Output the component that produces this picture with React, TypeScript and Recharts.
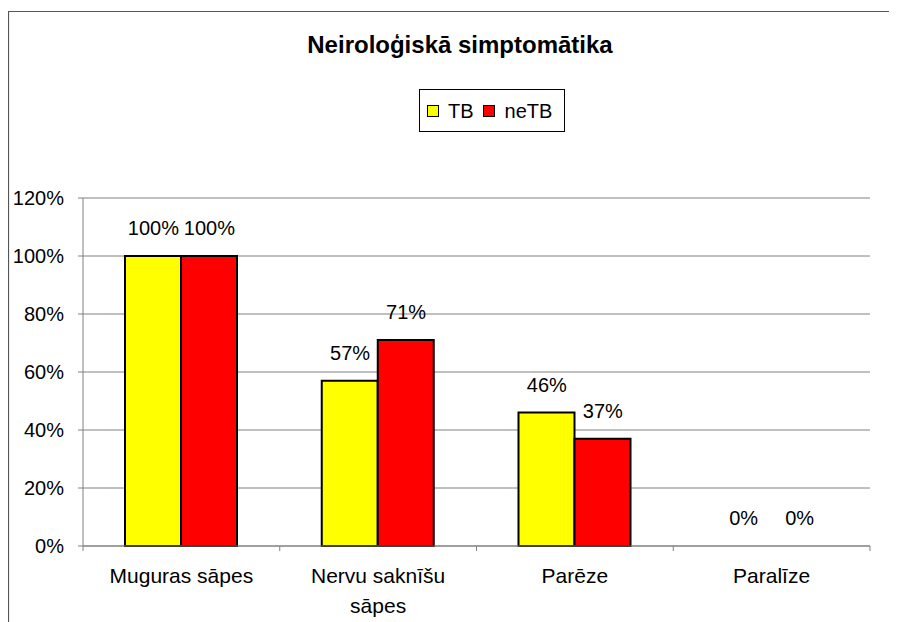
import React from 'react';
import { ComposedChart, Bar, Line, XAxis, YAxis, CartesianGrid, Legend, LabelList } from 'recharts';

const categories = ['Muguras sāpes', 'Nervu saknīšu sāpes', 'Parēze', 'Paralīze'];
const tbValues = [100, 57, 46, 0];
const neTbValues = [100, 71, 37, 0];
const yTicks = [0, 20, 40, 60, 80, 100, 120];
const TITLE = 'Neiroloģiskā simptomātika';

const data = categories.map((name, i) => ({ name, TB: tbValues[i], neTB: neTbValues[i] }));

const W = 889;
const H = 614;
const M = { top: 190, right: 27, left: 0, bottom: 16 };
const Y_W = 75;
const PLOT_W = W - M.left - M.right - Y_W;
const BAR_SIZE = 56;
const FONT = '"Liberation Sans", Arial, sans-serif';
const GRID = '#808080';

const splitLabel = (s: string): string[] => {
  if (s === 'Nervu saknīšu sāpes') return ['Nervu saknīšu', 'sāpes'];
  return [s];
};

const XTick = (props: any) => {
  const { x, y, payload, index } = props;
  const count = props.visibleTicksCount || categories.length;
  const band = PLOT_W / count;
  const lines = splitLabel(String(payload.value));
  const axisY = y - 5;
  const left = x - band / 2;
  return (
    <g>
      <line x1={left} x2={left} y1={axisY} y2={axisY + 5} stroke={GRID} strokeWidth={1} />
      {index === count - 1 && (
        <line x1={x + band / 2} x2={x + band / 2} y1={axisY} y2={axisY + 5} stroke={GRID} strokeWidth={1} />
      )}
      <text x={x} y={axisY + 37} textAnchor="middle" fontFamily={FONT} fontSize={21} fill="#000">
        {lines.map((l, i) => (
          <tspan key={i} x={x} dy={i === 0 ? 0 : 30}>{l}</tspan>
        ))}
      </text>
    </g>
  );
};

const makeLabel = (shift: number) => (props: any) => {
  const vb = props.viewBox || {};
  const x = props.x ?? vb.x;
  const y = props.y ?? vb.y;
  const { value } = props;
  if (x == null || y == null || value == null) return null;
  return (
    <text x={x + shift} y={y - 21} textAnchor="middle" fontFamily={FONT} fontSize={20} fill="#000">
      {value}%
    </text>
  );
};

const TbLabel = makeLabel(-BAR_SIZE / 2);
const NeTbLabel = makeLabel(BAR_SIZE / 2);

const LegendBox = (props: any) => {
  const payload = (props.payload || []).filter((p: any) => p.type !== 'none');
  return (
    <div
      style={{
        boxSizing: 'border-box',
        width: 146,
        height: 43,
        border: '1px solid #000',
        display: 'flex',
        alignItems: 'center',
        paddingLeft: 7,
        fontFamily: FONT,
        fontSize: 20,
        color: '#000',
        background: '#fff',
      }}
    >
      {payload.map((p: any, i: number) => (
        <div key={i} style={{ display: 'flex', alignItems: 'center', marginRight: 9 }}>
          <span
            style={{
              display: 'inline-block',
              boxSizing: 'border-box',
              width: 12,
              height: 12,
              background: p.color,
              border: '1.5px solid #000',
              marginRight: i === 0 ? 9 : 10,
            }}
          />
          <span style={{ lineHeight: '20px' }}>{p.value}</span>
        </div>
      ))}
    </div>
  );
};

export default function App() {
  return (
    <div style={{ position: 'relative', width: W, height: H, overflow: 'hidden', background: '#fff' }}>
      <svg width={W} height={H} style={{ position: 'absolute', left: 0, top: 0 }}>
        <line x1={0.5} x2={0.5} y1={3} y2={H} stroke="#555" strokeWidth={1.2} />
        <line x1={0} x2={W} y1={3.5} y2={3.5} stroke="#555" strokeWidth={1.2} />
        <text x={452} y={45} textAnchor="middle" fontFamily={FONT} fontSize={24} fontWeight="bold" fill="#000">
          {TITLE}
        </text>
      </svg>
      <div style={{ position: 'absolute', left: 0, top: 0 }}>
        <ComposedChart width={W} height={H} data={data} margin={M} barGap={0} barSize={BAR_SIZE}>
          <CartesianGrid horizontal vertical={false} stroke={GRID} strokeWidth={1} />
          <XAxis
            dataKey="name"
            height={60}
            tickLine={false}
            tickSize={5}
            tickMargin={0}
            axisLine={{ stroke: GRID, strokeWidth: 1 }}
            tick={<XTick />}
            interval={0}
          />
          <YAxis
            width={Y_W}
            domain={[0, 120]}
            ticks={yTicks}
            tickFormatter={(v: number) => `${v}%`}
            tickSize={5}
            tickMargin={14}
            axisLine={{ stroke: GRID, strokeWidth: 1 }}
            tickLine={{ stroke: GRID, strokeWidth: 1 }}
            tick={{ fontFamily: FONT, fontSize: 20, fill: '#000' }}
          />
          <Legend
            layout="horizontal"
            verticalAlign="middle"
            align="center"
            wrapperStyle={{ position: 'absolute', left: 411, top: 81, width: 146, height: 43 }}
            content={<LegendBox />}
          />
          <Bar dataKey="TB" fill="#FFFF00" stroke="#000" strokeWidth={2} isAnimationActive={false} />
          <Bar dataKey="neTB" fill="#FF0000" stroke="#000" strokeWidth={2} isAnimationActive={false} />
          <Line
            dataKey="TB"
            stroke="none"
            dot={false}
            activeDot={false}
            legendType="none"
            isAnimationActive={false}
          >
            <LabelList dataKey="TB" content={<TbLabel />} />
          </Line>
          <Line
            dataKey="neTB"
            stroke="none"
            dot={false}
            activeDot={false}
            legendType="none"
            isAnimationActive={false}
          >
            <LabelList dataKey="neTB" content={<NeTbLabel />} />
          </Line>
        </ComposedChart>
      </div>
    </div>
  );
}
